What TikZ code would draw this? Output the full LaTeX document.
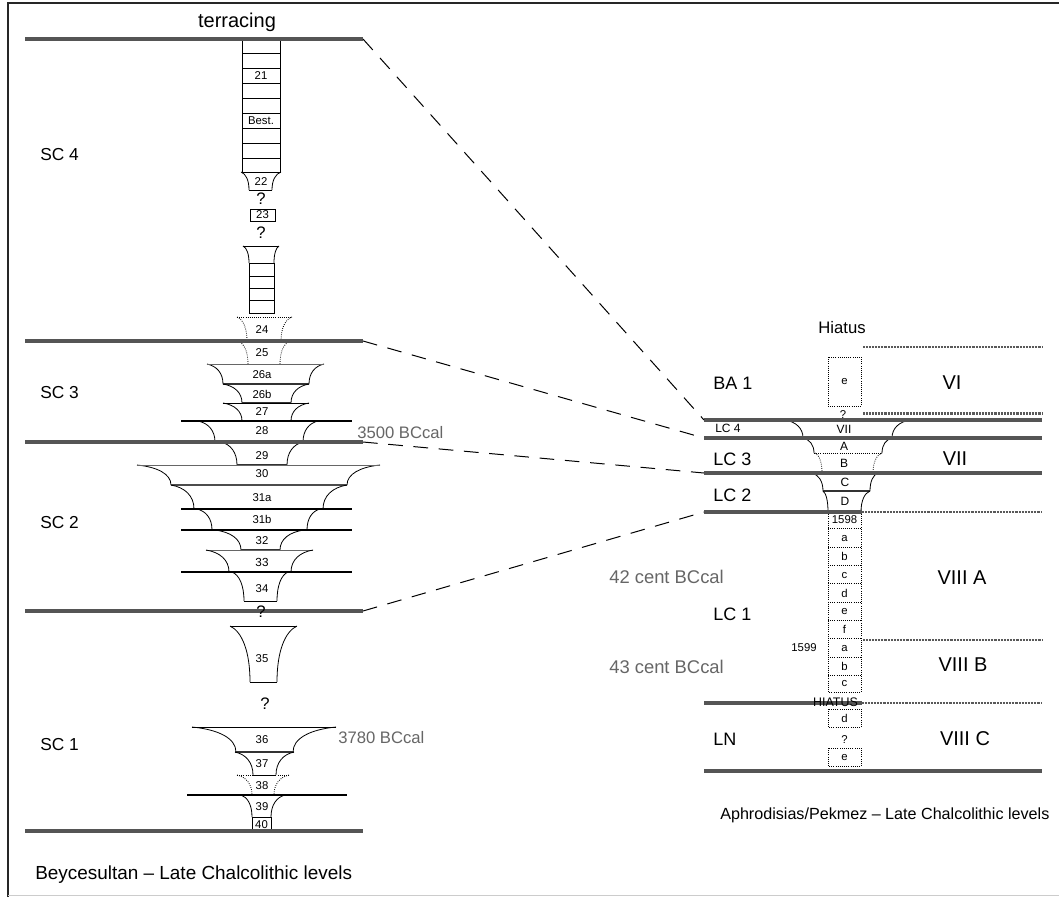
\documentclass[tikz,border=0pt]{standalone}
\usepackage{fontspec}
\setmainfont{Liberation Sans}
\definecolor{lvlgray}{HTML}{555555}
\definecolor{datagray}{HTML}{666666}
\newcommand{\flr}[7][cup]{%
  \pgfmathsetmacro{\fh}{#5-#2}%
  \draw[#1] (#3,#2) .. controls ({#3+0.6*(#6-#3)},{#2+0.1*\fh}) and (#6,{#2+0.45*\fh}) .. (#6,#5);%
  \draw[#1] (#4,#2) .. controls ({#4+0.6*(#7-#4)},{#2+0.1*\fh}) and (#7,{#2+0.45*\fh}) .. (#7,#5);%
}
\begin{document}
\begin{tikzpicture}[x=0.75pt,y=-0.75pt,
  lvl/.style={line width=2.3pt, draw=lvlgray},
  blk/.style={line width=2.1pt, draw=black},
  mid/.style={line width=1.3pt, draw=black!80},
  cup/.style={line width=0.6pt, draw=black},
  dcup/.style={line width=0.6pt, draw=black, densely dotted},
  hatch/.style={line width=2.2pt, draw=black!65, dash pattern=on 0.5pt off 0.6pt},
  conn/.style={line width=0.75pt, draw=black, dash pattern=on 11pt off 8pt},
  num/.style={font=\fontsize{8.5}{9}\selectfont, inner sep=0pt},
  small/.style={font=\fontsize{9}{10}\selectfont, inner sep=0pt},
  lab/.style={font=\fontsize{12.5}{14}\selectfont, inner sep=0pt},
  sc/.style={font=\fontsize{13}{15}\selectfont, inner sep=0pt},
  big/.style={font=\fontsize{13.5}{15}\selectfont, inner sep=0pt},
  roman/.style={font=\fontsize{15}{17}\selectfont, inner sep=0pt},
  date/.style={lab, text=datagray},
]
\useasboundingbox (0,0) rectangle (1059,897);
% frame
\draw[line width=1.2pt, black!85] (8,897) -- (8,3) -- (1059,3);
\draw[line width=1pt, black!20] (8,895.5) -- (1059,895.5);

% ---------------- left column: level lines ----------------
\coordinate (L1a) at (25,39);  \coordinate (L1) at (363,39);
\coordinate (L2a) at (25,341); \coordinate (L2) at (363,341);
\coordinate (L3a) at (25,442); \coordinate (L3) at (363,442);
\coordinate (L4a) at (25,611); \coordinate (L4) at (363,611);
\coordinate (L5a) at (25,831); \coordinate (L5) at (363,831);

\node[lab, font=\fontsize{15}{17}\selectfont] (terr) at (237,22) {terracing};

% stack 21 / Best.
\draw[cup] (242,39) rectangle (280,172);
\foreach \yy in {53,68,83,98,113,128,143,158} \draw[cup] (242,\yy) -- (280,\yy);
\node[num] (n21) at (261,76) {21};
\node[num] (nbest) at (261,121) {Best.};
% 22
\flr{172}{241}{281}{190}{249}{272}
\draw[cup] (249,190) -- (272,190);
\node[num] (n22) at (261,182) {22};
\node[lab] (q1) at (261,199) {?};
% 23
\draw[cup] (250,209) rectangle (275,221);
\node[num] (n23) at (262.5,215) {23};
\node[lab] (q2) at (261,233) {?};
% unnamed stack
\flr{246}{243}{279}{263}{249}{274}
\draw[cup] (243,246) -- (279,246);
\draw[cup] (249,263) rectangle (274,313);
\foreach \yy in {276,288,300} \draw[cup] (249,\yy) -- (274,\yy);
% 24 / 25
\flr[dcup]{317}{237}{292}{341}{247}{281}
\draw[dcup] (237,317) -- (292,317);
\node[num] (n24) at (262,330) {24};
\flr[dcup]{341}{238}{290}{364}{248}{280}
\draw[dcup] (248,364) -- (280,364);
\node[num] (n25) at (262,353) {25};
% 26a
\flr{364}{207}{324}{384}{223}{309}
\draw[cup, black!60] (207,364) -- (324,364);
\draw[mid] (223,384) -- (309,384);
\node[num] (n26a) at (262,375) {26a};
% 26b
\flr{384}{223}{309}{403}{242}{291}
\draw[mid] (242,403) -- (291,403);
\node[num] (n26b) at (262,394) {26b};
% 27
\flr{403}{223}{309}{421}{242}{291}
\draw[cup] (223,403) -- (309,403);
\node[num] (n27) at (262,412) {27};
\draw[blk] (181,421) -- (352,421);
% 28
\flr{421}{198}{318}{442}{215}{303}
\node[num] (n28) at (262,431) {28};
% 29
\flr{442}{221}{303}{465}{237}{287}
\draw[mid] (237,465) -- (287,465);
\node[num] (n29) at (262,456) {29};
% 30
\flr{465}{137}{380}{485}{171}{347}
\draw[cup, black!60] (137,465) -- (380,465);
\draw[cup, black!70, line width=1pt] (171,485) -- (347,485);
\node[num] (n30) at (262,474) {30};
% 31a
\flr{485}{171}{347}{509}{194}{323}
\draw[blk] (181,509) -- (352,509);
\node[num] (n31a) at (262,498) {31a};
% 31b
\flr{509}{197}{320}{530}{212}{307}
\draw[blk] (181,530) -- (352,530);
\node[num] (n31b) at (262,519) {31b};
% 32
\flr{530}{215}{304}{550}{241}{280}
\draw[mid] (241,550) -- (280,550);
\node[num] (n32) at (262,541) {32};
% 33
\draw[cup, black!60] (206,550) -- (313,550);
\flr{550}{206}{313}{572}{229}{291}
\draw[blk] (181,572) -- (352,572);
\node[num, font=\fontsize{8.8}{9}\selectfont] (n33) at (262,562) {33};
% 34
\flr{572}{232}{288}{601}{244}{277}
\draw[cup] (244,601) -- (277,601);
\node[num] (n34) at (262,589) {34};
% 35
\flr{626}{230}{297}{682}{250}{277}
\draw[cup] (230,626) -- (297,626);
\draw[cup] (250,682) -- (277,682);
\node[num] (n35) at (262,659) {35};
\node[lab] (q4) at (265,704) {?};
% 36
\flr{727}{192}{336}{752}{236}{293}
\draw[cup] (192,727) -- (336,727);
\draw[mid] (235,752) -- (294,752);
\node[num] (n36) at (262,740) {36};
% 37
\flr{752}{235}{294}{775}{253}{276}
\draw[cup] (253,775) -- (276,775);
\node[num] (n37) at (262,764) {37};
% 38
\flr[dcup]{775}{237}{289}{795}{252}{274}
\draw[dcup] (237,775) -- (289,775);
\node[num] (n38) at (262,786) {38};
\draw[blk] (187,795) -- (347,795);
% 39
\flr{795}{241}{285}{817}{252}{271}
\node[num] (n39) at (262,807) {39};
% 40
\draw[cup] (252,817) rectangle (271,831);
\node[num] (n40) at (261.5,825) {40};

% level lines on top
\draw[lvl] (L1a) -- (L1);
\draw[lvl] (L2a) -- (L2);
\draw[lvl] (L3a) -- (L3);
\draw[lvl] (L4a) -- (L4);
\draw[lvl] (L5a) -- (L5);
\node[lab] (q3) at (261,612) {?};

% left labels
\node[sc, anchor=west] (sc4) at (40,155) {SC 4};
\node[sc, anchor=west] (sc3) at (40,393) {SC 3};
\node[sc, anchor=west] (sc2) at (40,523) {SC 2};
\node[sc, anchor=west] (sc1) at (40,745) {SC 1};
\node[date, anchor=west] (d3500) at (357,433) {3500 BCcal};
\node[date, anchor=west] (d3780) at (338,738) {3780 BCcal};
\node[lab, anchor=west, font=\fontsize{14.2}{16}\selectfont] (capL) at (35,875) {Beycesultan -- Late Chalcolithic levels};

% ---------------- right column ----------------
\coordinate (R1) at (704,420);   \coordinate (R1b) at (1042,420);
\coordinate (R2) at (704,438);   \coordinate (R2b) at (1042,438);
\coordinate (R3) at (704,473);   \coordinate (R3b) at (1042,473);
\coordinate (R4) at (704,512);   \coordinate (R4b) at (862,512);
\coordinate (R5) at (704,703);   \coordinate (R5b) at (862,703);
\coordinate (R6) at (704,771);   \coordinate (R6b) at (1042,771);

% hatched lines
\draw[hatch] (863,347) -- (1042,347);
\draw[hatch] (863,413.5) -- (1042,413.5);
\draw[hatch] (863,640) -- (1042,640);
\draw[hatch] (R4b) -- (1042,512);
\draw[hatch] (R5b) -- (1042,703);

% e box
\draw[dcup] (828,357) rectangle (861,406);
\node[num] (re1) at (844.5,381) {e};
\node[num] (rq1) at (843,415) {?};
% VII cup
\flr{420}{785}{910}{438}{803}{892}
\node[num, font=\fontsize{9}{10}\selectfont] (rvii) at (844,429) {VII};
% A
\flr{438}{803}{892}{453}{814}{882}
\draw[dcup] (814,453) -- (882,453);
\node[num, font=\fontsize{9}{10}\selectfont] (rA) at (844,446) {A};
% B
\flr[dcup]{453}{815}{882}{473}{822}{873}
\node[num, font=\fontsize{9}{10}\selectfont] (rB) at (844,463) {B};
% C
\draw[mid] (812,473) -- (878,473);
\flr{473}{812}{878}{491}{823}{870}
\draw[mid] (823,491) -- (870,491);
\node[num, font=\fontsize{9}{10}\selectfont] (rC) at (845,482) {C};
% D
\flr{491}{823}{870}{512}{828}{861}
\node[num, font=\fontsize{9}{10}\selectfont] (rD) at (845,501) {D};
% dotted column
\draw[dcup] (828,512) rectangle (861,692);
\foreach \yy in {528,547,565,583.5,602,620,638.5,657,675} \draw[dcup] (828,\yy) -- (861,\yy);
\node[num] (r1598) at (844.5,520) {1598};
\node[num] (ra1) at (844.5,538) {a};
\node[num] (rb1) at (844.5,556) {b};
\node[num] (rc1) at (844.5,575) {c};
\node[num] (rd1) at (844.5,593) {d};
\node[num] (re2) at (844.5,611.5) {e};
\node[num] (rf1) at (844.5,629.5) {f};
\node[num] (ra2) at (844.5,648) {a};
\node[num] (rb2) at (844.5,666.5) {b};
\node[num] (rc2) at (844.5,683.5) {c};
\node[num] (r1599) at (804,647.5) {1599};
% d, ?, e boxes
\draw[dcup] (828,709) rectangle (861,727);
\node[num] (rd2) at (844.5,718) {d};
\node[num] (rq2) at (844.5,740) {?};
\draw[dcup] (828,748) rectangle (861,766);
\node[num] (re3) at (844.5,757) {e};

% solid level lines
\draw[lvl] (R1) -- (R1b);
\draw[lvl] (R2) -- (R2b);
\draw[lvl] (R3) -- (R3b);
\draw[lvl] (R4) -- (R4b);
\draw[lvl] (R5) -- (R5b);
\draw[lvl] (R6) -- (R6b);
\node[small, font=\fontsize{9.3}{10}\selectfont] (hiat) at (835.5,702) {HIATUS};

% right labels
\node[lab] (hiatus) at (842,328) {Hiatus};
\node[big, anchor=west] (ba1) at (713,383) {BA 1};
\node[roman] (vi) at (952,383) {VI};
\node[small, anchor=west] (lc4) at (715,428.5) {LC 4};
\node[big, anchor=west] (lc3) at (713,459) {LC 3};
\node[roman] (vii) at (955,459) {VII};
\node[big, anchor=west] (lc2) at (713,495) {LC 2};
\node[roman] (viiia) at (962,578) {VIII A};
\node[big, anchor=west] (lc1) at (713,614) {LC 1};
\node[roman] (viiib) at (963,665) {VIII B};
\node[big, anchor=west] (ln) at (713,739) {LN};
\node[roman] (viiic) at (965,739) {VIII C};
\node[date, anchor=west, font=\fontsize{13.8}{15}\selectfont] (d42) at (609,577) {42 cent BCcal};
\node[date, anchor=west, font=\fontsize{13.8}{15}\selectfont] (d43) at (609,667) {43 cent BCcal};
\node[lab, anchor=west, font=\fontsize{12.1}{14}\selectfont] (capR) at (720,815) {Aphrodisias/Pekmez -- Late Chalcolithic levels};

% connectors
\draw[conn] (L1) -- (R1);
\draw[conn] (L2) -- (R2);
\draw[conn] (L3) -- (R3);
\draw[conn] (L4) -- (R4);
\end{tikzpicture}
\end{document}
